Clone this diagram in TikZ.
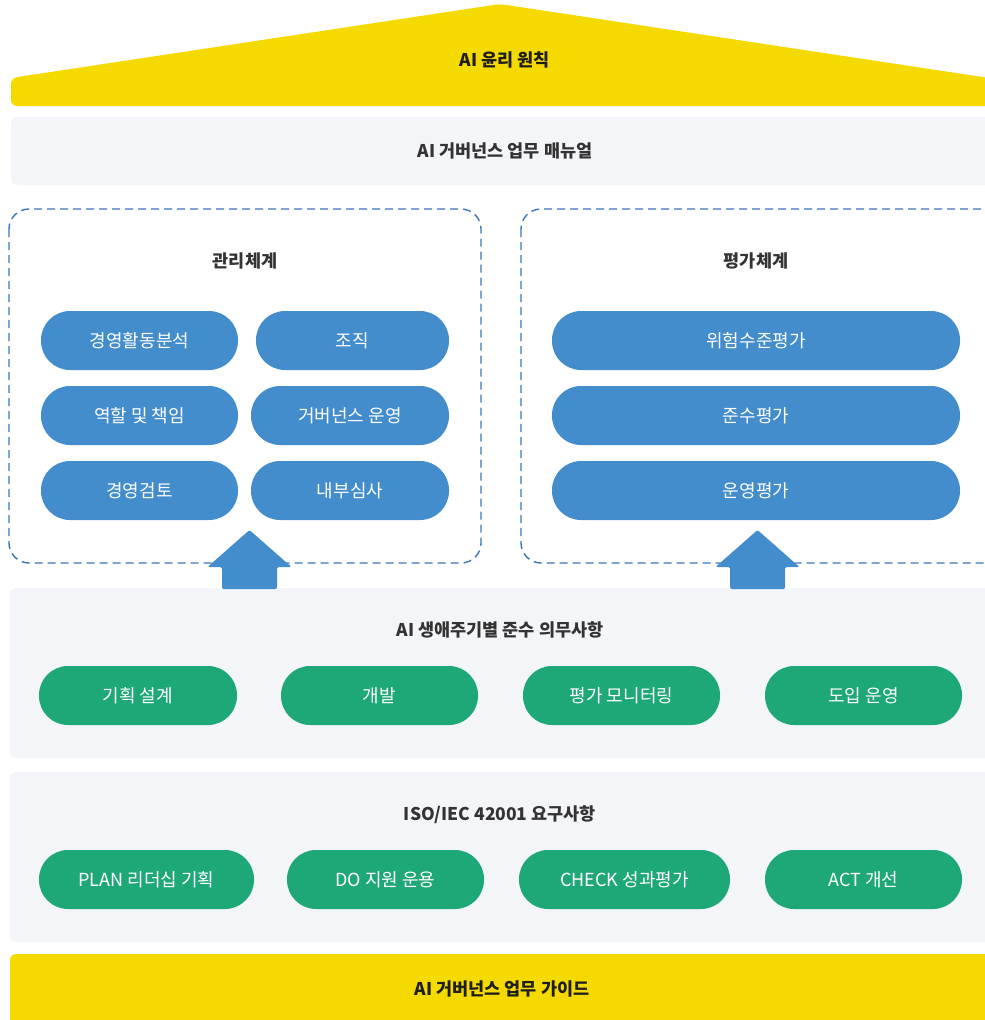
\documentclass[tikz,border=0pt]{standalone}
\usepackage{fontspec}
\setmainfont{Noto Sans CJK KR}
\definecolor{roofy}{HTML}{F5DA00}
\definecolor{panel}{HTML}{F4F5F9}
\definecolor{pblue}{HTML}{448DCD}
\definecolor{dblue}{HTML}{3A76BC}
\definecolor{pgreen}{HTML}{1FA877}
\definecolor{tdark}{HTML}{333333}
\definecolor{tblack}{HTML}{1E1E1E}
\tikzset{
  pill/.style={rectangle, rounded corners=29pt, minimum height=59pt, inner sep=0pt,
    text=white, font=\fontsize{18}{22}\selectfont},
  bluepill/.style={pill, fill=pblue},
  greenpill/.style={pill, fill=pgreen},
  title/.style={font=\fontsize{17.5}{21}\selectfont\bfseries, text=tdark, inner sep=0pt},
  ytitle/.style={title, text=tblack},
  panelbox/.style={fill=panel, rounded corners=6pt},
  dashbox/.style={draw=dblue, line width=1.4pt, dash pattern=on 8pt off 5pt, rounded corners=20pt},
  blockarrow/.style={fill=pblue, rounded corners=1.5pt}
}
\begin{document}
\begin{tikzpicture}[x=1pt,y=-1pt]
\useasboundingbox (0,0) rectangle (985,1020);
\clip (0,0) rectangle (985,1020);
\fill[white] (0,0) rectangle (985,1020);
% roof
\fill[roofy, rounded corners=6pt] (11,106) -- (11,78) -- (500,4) -- (989,78) -- (1000,78) -- (1000,106) -- cycle;
\node[ytitle] (roof) at (505,60) {AI 윤리 원칙};
% manual bar
\fill[panelbox] (11,117) rectangle (1000,185);
\node[title] (manual) at (505,151) {AI 거버넌스 업무 매뉴얼};
% dashed boxes
\draw[dashbox] (9,209) rectangle (481,563);
\draw[dashbox] (521,209) rectangle (1005,563);
\node[title] (mgmt) at (245,261) {관리체계};
\node[title] (eval) at (756,261) {평가체계};
% management pills
\node[bluepill, minimum width=197pt] (m11) at (139.5,340.5) {경영활동분석};
\node[bluepill, minimum width=193pt] (m12) at (352.5,340.5) {조직};
\node[bluepill, minimum width=197pt] (m21) at (139.5,415.5) {역할 및 책임};
\node[bluepill, minimum width=198pt] (m22) at (350,415.5) {거버넌스 운영};
\node[bluepill, minimum width=197pt] (m31) at (139.5,490.5) {경영검토};
\node[bluepill, minimum width=198pt] (m32) at (350,490.5) {내부심사};
% evaluation pills
\node[bluepill, minimum width=408pt] (e1) at (756,340.5) {위험수준평가};
\node[bluepill, minimum width=408pt] (e2) at (756,415.5) {준수평가};
\node[bluepill, minimum width=408pt] (e3) at (756,490.5) {운영평가};
% lifecycle panel
\fill[panelbox] (10,588) rectangle (1000,758);
\node[title] (life) at (500,630) {AI 생애주기별 준수 의무사항};
\node[greenpill, minimum width=198pt] (l1) at (138,695.5) {기획 설계};
\node[greenpill, minimum width=197pt] (l2) at (379.5,695.5) {개발};
\node[greenpill, minimum width=197pt] (l3) at (621.5,695.5) {평가 모니터링};
\node[greenpill, minimum width=197pt] (l4) at (863.5,695.5) {도입 운영};
% block arrows (from lifecycle panel up into the dashed boxes)
\coordinate (al) at (249.5,589);
\coordinate (ar) at (757.5,589);
\foreach \c in {al,ar}{
  \fill[blockarrow] ([xshift=-27.5pt]\c) -- ([xshift=-27.5pt,yshift=22pt]\c) -- ([xshift=-42pt,yshift=22pt]\c)
    -- ([yshift=59pt]\c) -- ([xshift=42pt,yshift=22pt]\c) -- ([xshift=27.5pt,yshift=22pt]\c)
    -- ([xshift=27.5pt]\c) -- cycle;
}
% ISO panel
\fill[panelbox] (10,772) rectangle (1000,942);
\node[title] (iso) at (500,815) {ISO/IEC 42001 요구사항};
\node[greenpill, minimum width=215pt] (p1) at (146.5,879.5) {PLAN 리더십 기획};
\node[greenpill, minimum width=197pt] (p2) at (385.5,879.5) {DO 지원 운용};
\node[greenpill, minimum width=211pt] (p3) at (624.5,879.5) {CHECK 성과평가};
\node[greenpill, minimum width=197pt] (p4) at (863.5,879.5) {ACT 개선};
% guide bar
\fill[roofy, rounded corners=6pt] (10,954) rectangle (1000,1030);
\node[ytitle] (guide) at (502,989) {AI 거버넌스 업무 가이드};
\end{tikzpicture}
\end{document}
